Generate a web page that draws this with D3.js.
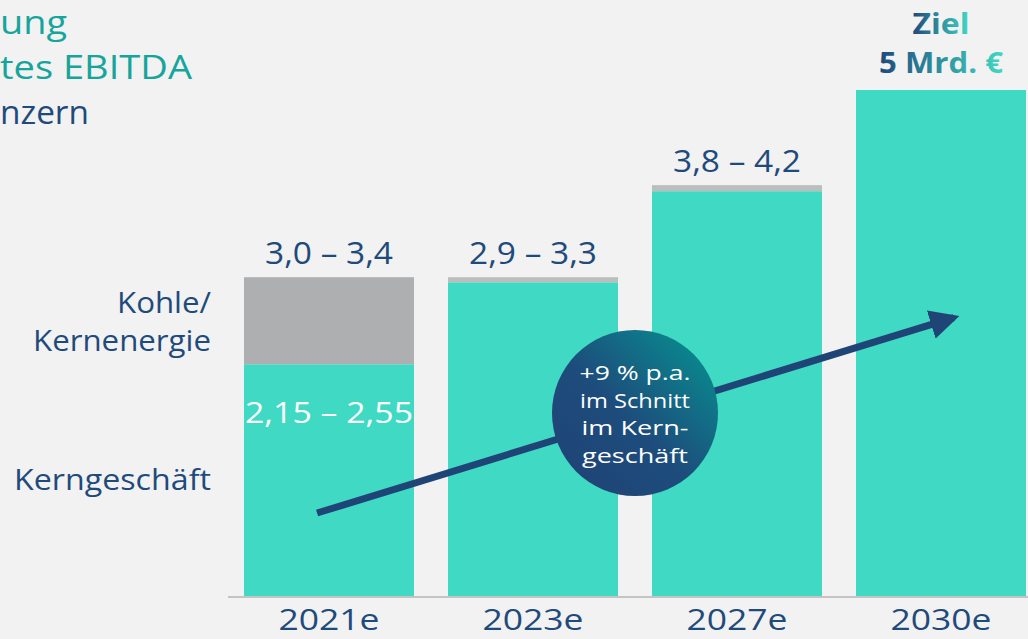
<!DOCTYPE html>
<html>
<head>
<meta charset="utf-8">
<script src="https://cdn.jsdelivr.net/npm/d3@7"></script>
<style>
  html, body { margin: 0; padding: 0; background: #f2f2f2; overflow: hidden; }
  svg { display: block; font-family: 'Open Sans', Lato, sans-serif; }
</style>
</head>
<body>
<svg id="chart" width="1028" height="639"></svg>
<script>
// values (Mrd. €)
const years = ['2021e', '2023e', '2027e', '2030e'];
const kernValues = [2.29, 3.10, 4.00, 5.00];
const kohleValues = [0.86, 0.05, 0.06, 0];
const rangeLabels = ['3,0 – 3,4', '2,9 – 3,3', '3,8 – 4,2', ''];
const kernLabel2021 = '2,15 – 2,55';
// title is cropped at the left edge of the slide: only these parts are visible
const titleLines = ['ung', 'tes EBITDA', 'nzern'];
const bubbleLines = ['+9 % p.a.', 'im Schnitt', 'im Kern-', 'geschäft'];
// trend arrow: [bar index, value]
const trendStart = [0, 0.82];
const trendEnd = [3, 2.75];

const W = 1028, H = 639;
const TEAL = '#40d9c4', GREY = '#aeafb1', BLUE = '#1f4a7c', TITLE_TEAL = '#16a59c';

const svg = d3.select('#chart');
const defs = svg.append('defs');

const x = d3.scaleBand().domain(years).range([244, 1026]).paddingInner(34 / 204).paddingOuter(0);
const y = d3.scaleLinear().domain([0, 5]).range([596, 90]);

// gradients
const bubbleGrad = defs.append('linearGradient').attr('id', 'bubbleGrad')
  .attr('x1', '15%').attr('y1', '85%').attr('x2', '85%').attr('y2', '15%');
bubbleGrad.append('stop').attr('offset', '0%').attr('stop-color', '#1f4577');
bubbleGrad.append('stop').attr('offset', '45%').attr('stop-color', '#1d4d7c');
bubbleGrad.append('stop').attr('offset', '100%').attr('stop-color', '#0b838c');

const zielGrad = defs.append('linearGradient').attr('id', 'zielGrad')
  .attr('x1', '0%').attr('x2', '100%').attr('y1', '0%').attr('y2', '0%');
zielGrad.append('stop').attr('offset', '0%').attr('stop-color', '#1f4a7c');
zielGrad.append('stop').attr('offset', '100%').attr('stop-color', '#3fd8c4');

defs.append('marker').attr('id', 'head')
  .attr('viewBox', '0 0 10 10').attr('refX', 8).attr('refY', 5)
  .attr('markerWidth', 4.2).attr('markerHeight', 4.2).attr('orient', 'auto')
  .attr('markerUnits', 'strokeWidth')
  .append('path').attr('d', 'M0,0 L10,5 L0,10 Z').attr('fill', '#1f4577');

// title
svg.append('g').selectAll('text').data(titleLines).join('text')
  .attr('x', 0)
  .attr('y', (d, i) => 34 + i * 45)
  .attr('font-size', 33)
  .attr('textLength', (d, i) => [67, 192, 89][i])
  .attr('lengthAdjust', 'spacingAndGlyphs')
  .attr('fill', (d, i) => i < 2 ? TITLE_TEAL : BLUE)
  .text(d => d);

// baseline
svg.append('line').attr('x1', 228).attr('x2', W).attr('y1', 597).attr('y2', 597)
  .attr('stroke', '#c4c4c4').attr('stroke-width', 2);

// bars
const bars = svg.append('g');
bars.selectAll('rect.kern').data(years).join('rect').attr('class', 'kern')
  .attr('x', d => x(d)).attr('width', x.bandwidth())
  .attr('y', (d, i) => y(kernValues[i]))
  .attr('height', (d, i) => y(0) - y(kernValues[i]))
  .attr('fill', TEAL);
bars.selectAll('rect.kohle').data(years).join('rect').attr('class', 'kohle')
  .attr('x', d => x(d)).attr('width', x.bandwidth())
  .attr('y', (d, i) => y(kernValues[i] + kohleValues[i]))
  .attr('height', (d, i) => y(kernValues[i]) - y(kernValues[i] + kohleValues[i]))
  .attr('fill', (d, i) => i === 0 ? GREY : '#bdbdbd');

// range labels above bars
svg.append('g').selectAll('text').data(years.filter((d, i) => rangeLabels[i])).join('text')
  .attr('x', d => x(d) + x.bandwidth() / 2)
  .attr('y', (d, i) => y(kernValues[i] + kohleValues[i]) - 13)
  .attr('text-anchor', 'middle')
  .attr('font-size', 31)
  .attr('textLength', 128).attr('lengthAdjust', 'spacingAndGlyphs')
  .attr('fill', BLUE)
  .text((d, i) => rangeLabels[i]);

// Kerngeschäft value in first bar
svg.append('text')
  .attr('x', x(years[0]) + x.bandwidth() / 2).attr('y', 423)
  .attr('text-anchor', 'middle').attr('font-size', 29).attr('fill', '#fff')
  .attr('textLength', 168).attr('lengthAdjust', 'spacingAndGlyphs')
  .text(kernLabel2021);

// Ziel label
const zx = x(years[3]) + x.bandwidth() / 2;
svg.append('text').attr('x', zx).attr('y', 34).attr('text-anchor', 'middle')
  .attr('font-size', 28).attr('font-weight', 'bold').attr('fill', 'url(#zielGrad)')
  .attr('textLength', 57).attr('lengthAdjust', 'spacingAndGlyphs').text('Ziel');
svg.append('text').attr('x', zx).attr('y', 73).attr('text-anchor', 'middle')
  .attr('font-size', 28).attr('font-weight', 'bold').attr('fill', 'url(#zielGrad)')
  .attr('textLength', 124).attr('lengthAdjust', 'spacingAndGlyphs').text('5 Mrd. €');

// x axis labels
const xAxis = d3.axisBottom(x).tickSize(0).tickPadding(0);
const ax = svg.append('g').attr('transform', 'translate(0,630)').call(xAxis);
ax.select('.domain').remove();
ax.selectAll('text').attr('font-size', 30).attr('fill', BLUE)
  .attr('font-family', "'Open Sans', sans-serif").attr('dy', null).attr('y', 0)
  .attr('textLength', 101).attr('lengthAdjust', 'spacingAndGlyphs');

// left category labels
const leftLabels = [['Kohle/', 313, 94], ['Kernenergie', 351, 178], ['Kerngeschäft', 490, 197]];
svg.append('g').selectAll('text').data(leftLabels).join('text')
  .attr('x', 211).attr('y', d => d[1])
  .attr('text-anchor', 'end').attr('font-size', 30).attr('fill', BLUE)
  .attr('textLength', d => d[2]).attr('lengthAdjust', 'spacingAndGlyphs')
  .text(d => d[0]);

// trend arrow
const px = p => x(years[p[0]]) + (p[0] === 0 ? 0.43 : 0.575) * x.bandwidth();
svg.append('line')
  .attr('x1', px(trendStart)).attr('y1', y(trendStart[1]))
  .attr('x2', px(trendEnd)).attr('y2', y(trendEnd[1]))
  .attr('stroke', '#1f4577').attr('stroke-width', 7)
  .attr('marker-end', 'url(#head)');

// growth bubble
const cx = (x(years[1]) + x.bandwidth() + x(years[2])) / 2;
const bubbleWidths = [111, 110, 107, 106];
svg.append('circle').attr('cx', cx).attr('cy', 413).attr('r', 83)
  .attr('fill', 'url(#bubbleGrad)');
svg.append('g').selectAll('text').data(bubbleLines).join('text')
  .attr('x', cx).attr('y', (d, i) => 380 + i * 27.7)
  .attr('text-anchor', 'middle').attr('font-size', 20.5).attr('fill', '#fff')
  .attr('textLength', (d, i) => bubbleWidths[i]).attr('lengthAdjust', 'spacingAndGlyphs')
  .text(d => d);
</script>
</body>
</html>
